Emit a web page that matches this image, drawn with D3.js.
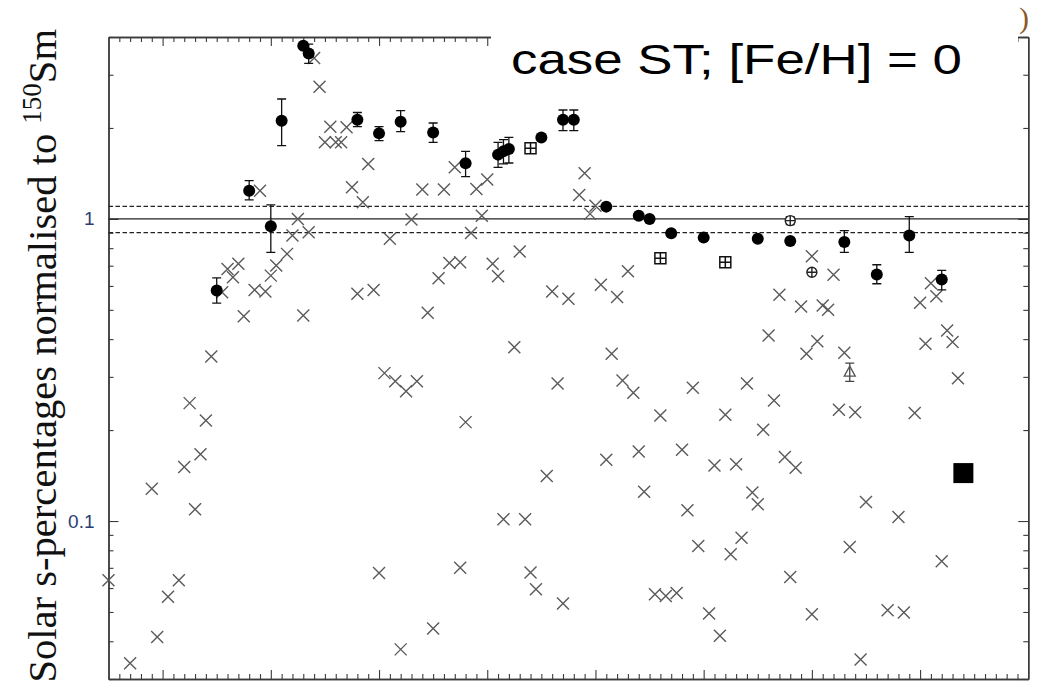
<!DOCTYPE html>
<html>
<head>
<meta charset="utf-8">
<script src="https://cdn.jsdelivr.net/npm/d3@7"></script>
<style>
  body { margin: 0; background: #fff; }
  svg { display: block; }
</style>
</head>
<body>
<svg id="chart" width="1043" height="684"></svg>
<script>
// ---- s-only isotopes (filled circles, with error bars where available) ----
const sOnlyMass = [70, 76, 80, 82, 86, 87, 96, 100, 104, 110, 116, 122, 123, 124, 130, 134, 136,
                   142, 148, 150, 154, 160, 170, 176, 186, 192, 198, 204];
const sOnlyRatio = [0.579, 1.240, 0.945, 2.114, 3.742, 3.528, 2.13, 1.919, 2.098, 1.933, 1.527, 1.632, 1.673, 1.704, 1.861, 2.13, 2.13,
                    1.098, 1.025, 1.0, 0.896, 0.867, 0.859, 0.845, 0.838, 0.654, 0.881, 0.630];
const sOnlyLow = [0.526, 1.156, 0.775, 1.747, null, 3.27, 2.02, 1.815, 1.944, 1.792, 1.38, 1.481, 1.52, 1.531, null, 1.959, 1.959,
                  null, null, null, null, null, null, null, 0.775, 0.61, 0.775, 0.582];
const sOnlyHigh = [0.638, 1.339, 1.112, 2.494, null, 3.79, 2.25, 2.02, 2.281, 2.077, 1.673, 1.792, 1.83, 1.861, null, 2.293, 2.293,
                   null, null, null, null, null, null, null, 0.915, 0.705, 1.018, 0.675];

// ---- special isotopes ----
const boxedMass = [128, 152, 164];
const boxedRatio = [1.712, 0.741, 0.719];
const plusMass = [176, 180];
const plusRatio = [0.987, 0.666];
const plusLow = [0.958, null];
const plusHigh = [1.018, null];
const triMass = [187];
const triRatio = [0.311];
const triLow = [0.290];
const triHigh = [0.333];
const pbMass = [208];
const pbRatio = [0.1441];

// ---- all other isotopes (crosses) ----
const otherMass = [50, 54, 58, 59, 61, 63, 64, 65, 66, 67, 68, 69, 71, 72, 73, 74, 75, 77, 78, 79,
                   80, 81, 83, 84, 85, 86, 87, 88, 89, 90, 91, 92, 93, 94, 95, 96, 97, 98, 99, 100,
                   101, 102, 103, 104, 105, 106, 107, 108, 109, 110, 111, 112, 113, 114, 115, 115, 116, 117, 118, 119,
                   120, 121, 122, 123, 125, 126, 127, 128, 129, 131, 132, 133, 134, 135, 137, 138, 139, 140,
                   141, 142, 143, 144, 145, 146, 147, 148, 149, 151, 152, 153, 155, 156, 157, 158, 159,
                   161, 162, 163, 164, 165, 166, 167, 168, 169, 170, 171, 172, 173, 174, 175, 176, 177, 178, 179,
                   180, 180, 181, 182, 183, 184, 185, 186, 187, 188, 189, 190, 194, 196, 197, 199,
                   200, 201, 202, 203, 204, 205, 206, 207];
const otherRatio = [0.0637, 0.0338, 0.128, 0.0413, 0.0561, 0.0637, 0.151, 0.2456, 0.1093, 0.1662, 0.2153, 0.3504, 0.572, 0.683, 0.641, 0.710, 0.476, 0.582, 1.240, 0.575,
                    0.649, 0.701, 0.766, 0.881, 1.0, 0.479, 0.903, 3.407, 2.739, 1.792, 2.02, 1.792, 1.792, 2.009, 1.272, 0.565, 1.135, 1.520, 0.582, 0.0673,
                    0.3087, 0.859, 0.290, 0.0376, 0.269, 0.995, 0.290, 1.250, 0.489, 0.0441, 0.636, 1.250, 0.715, 1.481, 0.719, 0.0701, 0.2125, 0.898, 1.257, 1.025,
                    1.349, 0.710, 0.646, 0.1013, 0.376, 0.780, 0.1013, 0.0675, 0.0594, 0.1409, 0.575, 0.285, 0.0533, 0.544, 1.200, 1.415, 1.039, 1.106,
                    0.605, 0.1594, 0.358, 0.551, 0.292, 0.671, 0.266, 0.170, 0.1251, 0.0572, 0.2236, 0.0565, 0.0578, 0.1722, 0.1085, 0.276, 0.0827,
                    0.0494, 0.1528, 0.0417, 0.2248, 0.0776, 0.154, 0.0881, 0.285, 0.1242, 0.1136, 0.2006, 0.411, 0.2507, 0.561, 0.1628, 0.0653, 0.1502, 0.513, 0.358,
                    0.0491, 0.752, 0.3937, 0.517, 0.500, 0.653, 0.2335, 0.3604, 0.082, 0.2293, 0.0348, 0.1156, 0.0507, 0.1031, 0.0498, 0.2276,
                    0.528, 0.386, 0.612, 0.555, 0.0736, 0.427, 0.391, 0.297];

// ---- reference band and axis ticks ----
const refLevels = [0.9, 1.0, 1.1];
const yLabelTicks = [0.1, 1];
const yLabelText = ["0.1", "1"];
const massRange = [50, 220];
const ratioRange = [0.03, 4];

const title = "case ST; [Fe/H] = 0";

// ---- layout ----
const svg = d3.select("#chart");
const L = 108.5, R = 1028.3, T = 37, B = 679;

const x = d3.scaleLinear().domain(massRange).range([L, R]);
const y = d3.scaleLog().domain(ratioRange).range([B, T]);

const xMajor = d3.range(60, 220, 20);
const xMinor = d3.range(52, 220, 2).filter(v => v % 20 !== 0);
const yMinor = y.ticks().filter(v => !yLabelTicks.some(m => Math.abs(m - v) < 1e-9));

const axisColor = "#3a3a3a";

function styleAxis(g) {
  g.selectAll("path.domain").attr("stroke", axisColor).attr("stroke-width", 1.4);
  g.selectAll(".tick line").attr("stroke", axisColor).attr("stroke-width", 1.1);
}

// bottom and top axes: minor and major inward ticks
svg.append("g").attr("transform", `translate(0,${B})`)
  .call(d3.axisBottom(x).tickValues(xMinor).tickSize(-5).tickSizeOuter(0).tickFormat(""))
  .call(styleAxis);
svg.append("g").attr("transform", `translate(0,${B})`)
  .call(d3.axisBottom(x).tickValues(xMajor).tickSize(-9).tickSizeOuter(0).tickFormat(""))
  .call(styleAxis);
svg.append("g").attr("transform", `translate(0,${T})`)
  .call(d3.axisTop(x).tickValues(xMinor).tickSize(-5).tickSizeOuter(0).tickFormat(""))
  .call(styleAxis);
svg.append("g").attr("transform", `translate(0,${T})`)
  .call(d3.axisTop(x).tickValues(xMajor).tickSize(-9).tickSizeOuter(0).tickFormat(""))
  .call(styleAxis);

// left and right axes
svg.append("g").attr("transform", `translate(${L},0)`)
  .call(d3.axisLeft(y).tickValues(yMinor).tickSize(-5).tickSizeOuter(0).tickFormat(""))
  .call(styleAxis);
const leftMajor = svg.append("g").attr("transform", `translate(${L},0)`)
  .call(d3.axisLeft(y).tickValues(yLabelTicks).tickSize(-10).tickSizeOuter(0).tickPadding(14)
    .tickFormat((d, i) => yLabelText[i]))
  .call(styleAxis);
leftMajor.selectAll("text")
  .attr("fill", "#2b3c70")
  .attr("font-family", "'Liberation Sans', Arial, sans-serif")
  .attr("font-size", 19)
  .style("font-size", "19px");
svg.append("g").attr("transform", `translate(${R},0)`)
  .call(d3.axisRight(y).tickValues(yMinor).tickSize(-5).tickSizeOuter(0).tickFormat(""))
  .call(styleAxis);
svg.append("g").attr("transform", `translate(${R},0)`)
  .call(d3.axisRight(y).tickValues(yLabelTicks).tickSize(-10).tickSizeOuter(0).tickFormat(""))
  .call(styleAxis);

// reference band around unity
svg.append("g").selectAll("line").data(refLevels).join("line")
  .attr("x1", L).attr("x2", R)
  .attr("y1", d => y(d)).attr("y2", d => y(d))
  .attr("stroke", "#222")
  .attr("stroke-width", 1.3)
  .attr("stroke-dasharray", d => d === 1 ? null : "4.5,2.5");

// other isotopes: grey crosses
const cs = 6;
const crosses = svg.append("g").attr("stroke", "#5a5a5a").attr("stroke-width", 1.4).attr("fill", "none");
crosses.selectAll("path").data(otherMass.map((m, i) => [m, otherRatio[i]])).join("path")
  .attr("d", d => {
    const px = x(d[0]), py = y(d[1]);
    return `M${px - cs},${py - cs}L${px + cs},${py + cs}M${px - cs},${py + cs}L${px + cs},${py - cs}`;
  });

// error bars helper
function errorBars(g, mass, low, high, color) {
  const rows = mass.map((m, i) => [m, low[i], high[i]]).filter(r => r[1] != null);
  const cap = 4.5;
  g.selectAll("path.err").data(rows).join("path").attr("class", "err")
    .attr("fill", "none").attr("stroke", color).attr("stroke-width", 1.3)
    .attr("d", r => {
      const px = x(r[0]), y1 = y(r[1]), y2 = y(r[2]);
      return `M${px},${y1}L${px},${y2}M${px - cap},${y1}L${px + cap},${y1}M${px - cap},${y2}L${px + cap},${y2}`;
    });
}

// s-only isotopes
const sOnly = svg.append("g");
errorBars(sOnly, sOnlyMass, sOnlyLow, sOnlyHigh, "#111");
sOnly.selectAll("circle").data(sOnlyMass.map((m, i) => [m, sOnlyRatio[i]])).join("circle")
  .attr("cx", d => x(d[0])).attr("cy", d => y(d[1])).attr("r", 6).attr("fill", "#000");

// boxed symbols
const bs = 5.5;
svg.append("g").selectAll("path").data(boxedMass.map((m, i) => [m, boxedRatio[i]])).join("path")
  .attr("fill", "#fff").attr("stroke", "#111").attr("stroke-width", 1.5)
  .attr("d", d => {
    const px = x(d[0]), py = y(d[1]);
    return `M${px - bs},${py - bs}h${2 * bs}v${2 * bs}h${-2 * bs}ZM${px - bs},${py}h${2 * bs}M${px},${py - bs}v${2 * bs}`;
  });

// circled-plus symbols
const plusG = svg.append("g");
errorBars(plusG, plusMass, plusLow, plusHigh, "#333");
plusG.selectAll("path.sym").data(plusMass.map((m, i) => [m, plusRatio[i]])).join("path").attr("class", "sym")
  .attr("fill", "#fff").attr("stroke", "#222").attr("stroke-width", 1.4)
  .attr("d", d => {
    const px = x(d[0]), py = y(d[1]), r = 5;
    return `M${px - r},${py}a${r},${r} 0 1,0 ${2 * r},0a${r},${r} 0 1,0 ${-2 * r},0M${px - r},${py}h${2 * r}M${px},${py - r}v${2 * r}`;
  });

// open triangle
const triG = svg.append("g");
errorBars(triG, triMass, triLow, triHigh, "#444");
triG.selectAll("path.sym").data(triMass.map((m, i) => [m, triRatio[i]])).join("path").attr("class", "sym")
  .attr("fill", "none").attr("stroke", "#555").attr("stroke-width", 1.3)
  .attr("d", d => {
    const px = x(d[0]), py = y(d[1]);
    return `M${px},${py - 6}L${px + 5.5},${py + 4}L${px - 5.5},${py + 4}Z`;
  });

// solid square
svg.append("g").selectAll("rect").data(pbMass.map((m, i) => [m, pbRatio[i]])).join("rect")
  .attr("x", d => x(d[0]) - 10).attr("y", d => y(d[1]) - 10)
  .attr("width", 20).attr("height", 20).attr("fill", "#000");

// case label on a white box over the top frame
svg.append("rect").attr("x", 491).attr("y", 0).attr("width", 527).attr("height", 50).attr("fill", "#fff");
svg.append("text")
  .attr("x", 511).attr("y", 74)
  .attr("textLength", 451).attr("lengthAdjust", "spacingAndGlyphs")
  .style("font-family", "'Liberation Sans', Arial, sans-serif")
  .style("font-size", "43px")
  .attr("fill", "#000")
  .text(title);

svg.append("text")
  .attr("x", 1019).attr("y", 28)
  .style("font-family", "'Liberation Serif', 'Times New Roman', serif")
  .style("font-size", "30px")
  .attr("fill", "#8a5a2a")
  .text(")");

// y axis title
const yt = svg.append("text")
  .attr("transform", "translate(56,29) rotate(-90)")
  .attr("text-anchor", "end")
  .style("font-family", "'Liberation Serif', 'Times New Roman', serif")
  .style("font-size", "40.6px")
  .attr("fill", "#111");
yt.append("tspan").text("Solar s-percentages normalised to ");
yt.append("tspan").attr("dy", -15).style("font-size", "27px").text("150");
yt.append("tspan").attr("dy", 15).text("Sm");
</script>
</body>
</html>
